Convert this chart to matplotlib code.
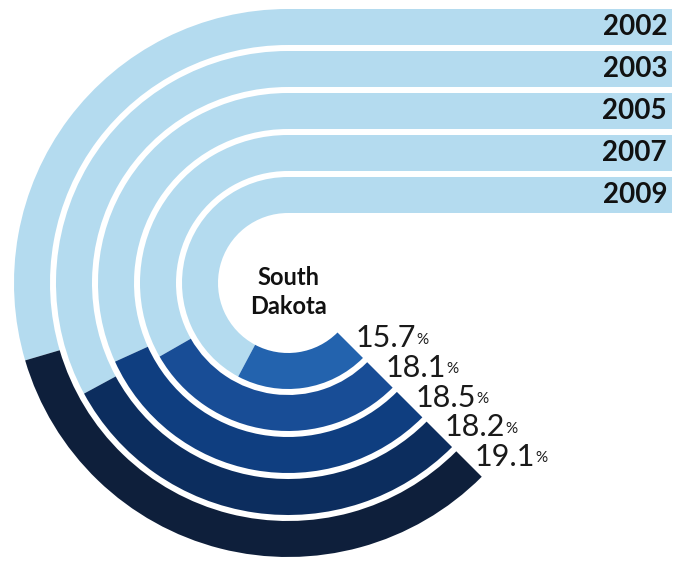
import math
import matplotlib.pyplot as plt
from matplotlib.patches import Wedge, Rectangle

# -----------------------------
# Data (outer ring -> inner ring)
# -----------------------------
years = ["2002", "2003", "2005", "2007", "2009"]
values = [19.1, 18.2, 18.5, 18.1, 15.7]
state = "South\nDakota"

dark_colors = ["#0e1f3b", "#0c2d5e", "#0f3e80", "#184d96", "#2363ae"]
light_color = "#b4dbef"

# -----------------------------
# Geometry (pixel-like units, y up)
# -----------------------------
W, H = 684, 561
cx, cy = 288, 278
r_hole = 70
band = 36
gap = 6
x_end = 672
end_angle = 315           # all arcs end at lower right
v_min = 10.25             # value at zero sweep
deg_per_pct = 13.4        # sweep scale

fig = plt.figure(figsize=(W / 100, H / 100), dpi=100)
ax = fig.add_axes([0, 0, 1, 1])
ax.set_xlim(0, W)
ax.set_ylim(0, H)
ax.set_aspect("equal")
ax.axis("off")

n = len(years)
for i, (yr, v, col) in enumerate(zip(years, values, dark_colors)):
    k = n - 1 - i                      # 0 = innermost
    r_in = r_hole + k * (band + gap)
    r_out = r_in + band
    start = end_angle - (v - v_min) * deg_per_pct

    # light track: straight part + curve down the left side
    ax.add_patch(Rectangle((cx, cy + r_in), x_end - cx, band,
                           facecolor=light_color, edgecolor="none"))
    ax.add_patch(Wedge((cx, cy), r_out, 90, start, width=band,
                       facecolor=light_color, edgecolor="none"))
    # value arc
    ax.add_patch(Wedge((cx, cy), r_out, start, end_angle, width=band,
                       facecolor=col, edgecolor="none"))

    # year label on the straight part
    ax.text(x_end - 5, cy + r_in + band / 2, yr, ha="right", va="center",
            fontsize=20, fontweight="bold", family="Lato", color="#111111")

    # value label at the end of the arc
    rm = (r_in + r_out) / 2
    px = cx + rm * math.cos(math.radians(end_angle))
    py = cy + rm * math.sin(math.radians(end_angle))
    t = ax.annotate(f"{v:.1f}", (px, py), xytext=(4, 5),
                    textcoords="offset points", ha="left", va="center",
                    fontsize=22, family="Lato", color="#1a1a1a")
    ax.annotate("%", xy=(1, 0.2), xycoords=t, xytext=(0.3, 0),
                textcoords="offset points", ha="left", va="bottom",
                fontsize=11, family="Lato", color="#1a1a1a")

ax.text(cx, cy - 9, state, ha="center", va="center", fontsize=17,
        fontweight="bold", family="Lato", color="#111111", linespacing=1.3)

fig.savefig("out.png", dpi=100, facecolor="white")
